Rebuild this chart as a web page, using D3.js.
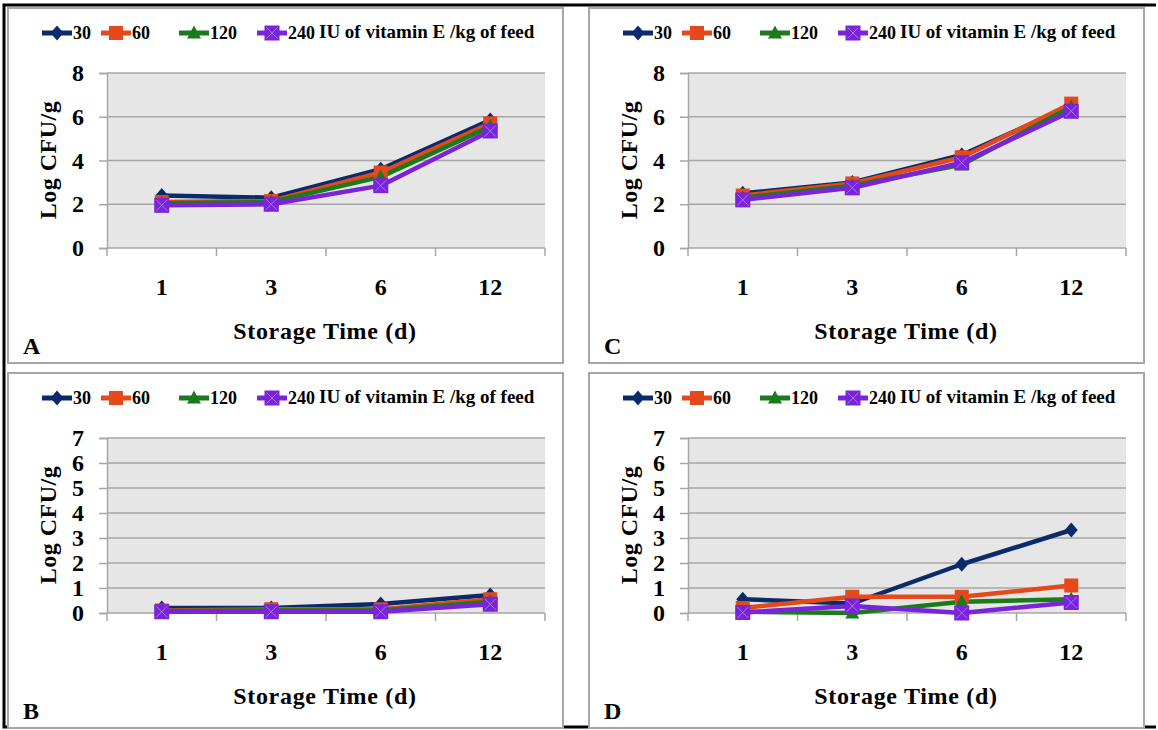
<!DOCTYPE html>
<html>
<head>
<meta charset="utf-8">
<script src="https://cdn.jsdelivr.net/npm/d3@7"></script>
<style>
  body { margin: 0; background: #fff; }
  svg { display: block; }
  text { font-family: "Liberation Serif", "Times New Roman", serif; font-weight: bold; fill: #000; }
</style>
</head>
<body>
<svg id="chart" width="1158" height="730"></svg>
<script>
// storage days (categories) and vitamin E levels (series)
const days = ["1", "3", "6", "12"]
const levels = ["30", "60", "120", "240"]
const legendUnit = "IU of vitamin E /kg of feed"

// Log CFU/g per level (rows follow levels)
const panelA = [
  [2.4, 2.3, 3.6, 5.85],
  [2.1, 2.15, 3.45, 5.7],
  [2.05, 2.1, 3.25, 5.55],
  [1.95, 2.0, 2.85, 5.35]
]
const panelB = [
  [0.2, 0.2, 0.36, 0.72],
  [0.1, 0.15, 0.15, 0.55],
  [0.08, 0.1, 0.1, 0.45],
  [0.05, 0.05, 0.05, 0.35]
]
const panelC = [
  [2.5, 3.0, 4.25, 6.5],
  [2.4, 2.95, 4.15, 6.6],
  [2.3, 2.85, 3.8, 6.45],
  [2.2, 2.75, 3.9, 6.25]
]
const panelD = [
  [0.55, 0.38, 1.95, 3.32],
  [0.2, 0.65, 0.65, 1.1],
  [0.05, 0.0, 0.45, 0.55],
  [0.02, 0.28, 0.0, 0.42]
]

const ticksAC = [0, 2, 4, 6, 8]
const ticksBD = [0, 1, 2, 3, 4, 5, 6, 7]

const colors = ["#0b2a6c", "#e5481a", "#1b7a1b", "#7a22dc"]
const markers = ["diamond", "square", "triangle", "xsquare"]

const svg = d3.select("#chart")

// outer black frame (left, top, bottom)
svg.append("path")
  .attr("d", "M1156,5 H4 V727 H1156")
  .attr("fill", "none")
  .attr("stroke", "#000")
  .attr("stroke-width", 3)

const panels = [
  { label: "A", data: panelA, ticks: ticksAC, dx: 0, dy: 0 },
  { label: "C", data: panelC, ticks: ticksAC, dx: 581, dy: 0 },
  { label: "B", data: panelB, ticks: ticksBD, dx: 0, dy: 365 },
  { label: "D", data: panelD, ticks: ticksBD, dx: 581, dy: 365 }
]

function drawMarker(g, type, color, cx, cy) {
  if (type === "diamond") {
    g.append("path")
      .attr("d", `M${cx},${cy - 7.5} L${cx + 6.5},${cy} L${cx},${cy + 7.5} L${cx - 6.5},${cy} Z`)
      .attr("fill", color)
  } else if (type === "square") {
    g.append("rect")
      .attr("x", cx - 7).attr("y", cy - 7)
      .attr("width", 14).attr("height", 14)
      .attr("fill", color)
  } else if (type === "triangle") {
    g.append("path")
      .attr("d", `M${cx},${cy - 7.5} L${cx + 7},${cy + 5.5} L${cx - 7},${cy + 5.5} Z`)
      .attr("fill", color)
  } else {
    g.append("rect")
      .attr("x", cx - 7.5).attr("y", cy - 7.5)
      .attr("width", 15).attr("height", 15)
      .attr("fill", color)
    g.append("path")
      .attr("d", `M${cx - 5.5},${cy - 5.5} L${cx + 5.5},${cy + 5.5} M${cx + 5.5},${cy - 5.5} L${cx - 5.5},${cy + 5.5}`)
      .attr("stroke", "#a779f0")
      .attr("stroke-width", 1)
  }
}

panels.forEach(p => {
  const g = svg.append("g").attr("transform", `translate(${p.dx},${p.dy})`)

  // panel box
  g.append("rect")
    .attr("x", 8).attr("y", 8)
    .attr("width", 555).attr("height", 355)
    .attr("fill", "#fff")
    .attr("stroke", "#a6a6a6")
    .attr("stroke-width", 2)

  const left = 107, right = 545, top = 73, bottom = 248

  const x = d3.scaleBand().domain(days).range([left, right])
  const y = d3.scaleLinear().domain([0, d3.max(p.ticks)]).range([bottom, top])

  // plot background
  g.append("rect")
    .attr("x", left).attr("y", top)
    .attr("width", right - left).attr("height", bottom - top)
    .attr("fill", "#e6e6e6")

  // gridlines
  g.selectAll(".grid")
    .data(p.ticks)
    .join("line")
    .attr("x1", left).attr("x2", right)
    .attr("y1", d => y(d)).attr("y2", d => y(d))
    .attr("stroke", "#a6a6a6")
    .attr("stroke-width", 1.5)

  // y axis
  const yAxis = g.append("g")
    .attr("transform", `translate(${left},0)`)
    .call(d3.axisLeft(y).tickValues(p.ticks).tickSize(8).tickPadding(15).tickFormat(d3.format("d")))
  yAxis.select(".domain").attr("stroke", "#a6a6a6").attr("stroke-width", 1.5)
  yAxis.selectAll(".tick line").attr("stroke", "#a6a6a6").attr("stroke-width", 1.5)
  yAxis.selectAll("text").attr("font-size", 24)

  // x axis (labels at category centres, tick marks between categories)
  const xAxis = g.append("g")
    .attr("transform", `translate(0,${bottom})`)
    .call(d3.axisBottom(x).tickSize(0).tickPadding(30))
  xAxis.select(".domain").remove()
  xAxis.selectAll("text").attr("font-size", 24)

  const bounds = days.map(d => x(d)).concat([x(days[days.length - 1]) + x.step()])
  g.selectAll(".xtick")
    .data(bounds)
    .join("line")
    .attr("x1", d => d).attr("x2", d => d)
    .attr("y1", bottom).attr("y2", bottom + 8)
    .attr("stroke", "#a6a6a6")
    .attr("stroke-width", 1.5)

  // axis titles and panel letter
  g.append("text")
    .attr("transform", `translate(56,160) rotate(-90)`)
    .attr("text-anchor", "middle")
    .attr("font-size", 24)
    .attr("letter-spacing", 0.5)
    .text("Log CFU/g")

  g.append("text")
    .attr("x", (left + right) / 2 - 1).attr("y", 339)
    .attr("text-anchor", "middle")
    .attr("font-size", 24)
    .attr("letter-spacing", 0.7)
    .text("Storage Time (d)")

  g.append("text")
    .attr("x", 23).attr("y", 354)
    .attr("font-size", 24)
    .text(p.label)

  // series
  const line = d3.line()
    .x((d, i) => x(days[i]) + x.bandwidth() / 2)
    .y(d => y(d))

  p.data.forEach((vals, s) => {
    g.append("path")
      .datum(vals)
      .attr("d", line)
      .attr("fill", "none")
      .attr("stroke", colors[s])
      .attr("stroke-width", 4.5)
      .attr("stroke-linejoin", "round")
  })
  p.data.forEach((vals, s) => {
    vals.forEach((v, i) => drawMarker(g, markers[s], colors[s], x(days[i]) + x.bandwidth() / 2, y(v)))
  })

  // legend
  const lg = g.append("g").attr("transform", "translate(0,33)")
  const legendX = [42, 101, 179, 257]
  levels.forEach((lv, s) => {
    lg.append("line")
      .attr("x1", legendX[s]).attr("x2", legendX[s] + 30)
      .attr("y1", 0).attr("y2", 0)
      .attr("stroke", colors[s])
      .attr("stroke-width", 5)
    drawMarker(lg, markers[s], colors[s], legendX[s] + 15, 0)
    lg.append("text")
      .attr("x", legendX[s] + 31).attr("y", 6)
      .attr("font-size", 18)
      .text(lv)
  })
  lg.append("text")
    .attr("x", 319).attr("y", 5)
    .attr("font-size", 19)
    .text(legendUnit)
})
</script>
</body>
</html>
